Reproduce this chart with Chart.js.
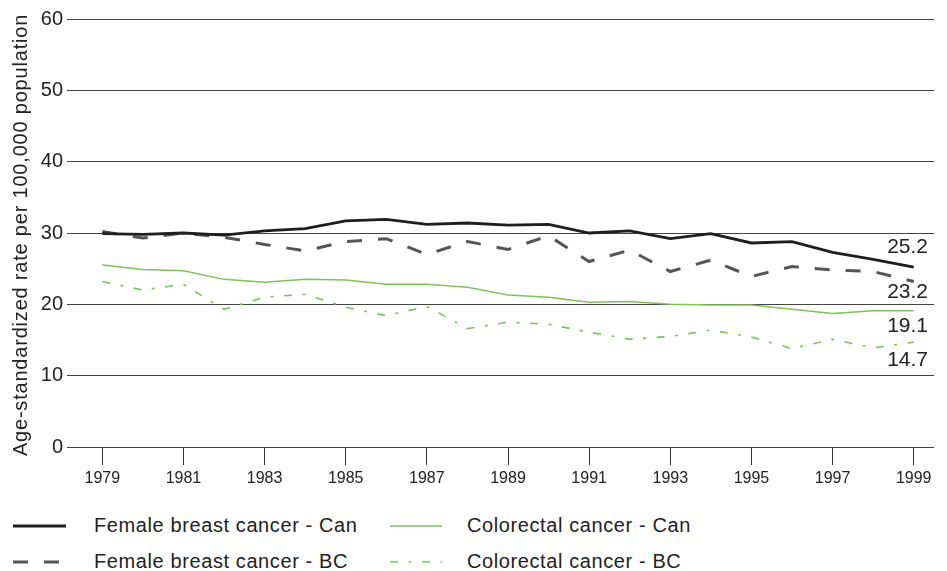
<!DOCTYPE html>
<html>
<head>
<meta charset="utf-8">
<script src="https://cdn.jsdelivr.net/npm/chart.js@4.4.1/dist/chart.umd.min.js"></script>
<style>
  body { margin: 0; background: #fff; font-family: "Liberation Sans", Arial, sans-serif; }
  #wrap { position: relative; width: 947px; height: 571px; }
  #box { position: absolute; left: 0; top: 0; width: 947px; height: 500px; }
  .leg { position: absolute; font-size: 20px; letter-spacing: 0.6px; color: #222; line-height: 22px; white-space: nowrap; }
</style>
</head>
<body>
<div id="wrap">
  <div id="box"><canvas id="chart"></canvas></div>
  <div id="legend"></div>
</div>
<script>
// Data
const years = ["1979", "1980", "1981", "1982", "1983", "1984", "1985", "1986", "1987", "1988", "1989",
  "1990", "1991", "1992", "1993", "1994", "1995", "1996", "1997", "1998", "1999"];
const shownYears = ["1979", "1981", "1983", "1985", "1987", "1989", "1991", "1993", "1995", "1997", "1999"];
const breastCan = [29.9, 29.8, 30.0, 29.7, 30.3, 30.6, 31.7, 31.9, 31.2, 31.4, 31.1, 31.2, 30.0, 30.3, 29.2, 29.9, 28.6, 28.8, 27.3, 26.3, 25.2];
const breastBC = [30.2, 29.3, 30.0, 29.4, 28.4, 27.5, 28.8, 29.2, 27.0, 28.8, 27.7, 29.6, 26.0, 27.6, 24.6, 26.2, 23.9, 25.3, 24.8, 24.6, 23.2];
const colorectalCan = [25.5, 24.9, 24.7, 23.5, 23.1, 23.5, 23.4, 22.8, 22.8, 22.4, 21.3, 21.0, 20.3, 20.4, 20.0, 19.9, 19.9, 19.3, 18.7, 19.1, 19.1];
const colorectalBC = [23.2, 22.0, 22.8, 19.3, 21.0, 21.4, 19.6, 18.4, 19.7, 16.6, 17.5, 17.2, 16.1, 15.1, 15.5, 16.4, 15.4, 13.8, 15.1, 13.9, 14.7];
const seriesNames = ["Female breast cancer - Can", "Female breast cancer - BC", "Colorectal cancer - Can", "Colorectal cancer - BC"];
const yTitle = "Age-standardized rate per 100,000 population";

const GREEN = "#7cc35a";
const styles = [
  { color: "#1e1e1e", width: 2.8, dash: [] },
  { color: "#555555", width: 3, dash: [15, 16] },
  { color: GREEN, width: 1.5, dash: [] },
  { color: GREEN, width: 1.6, dash: [8, 10.5, 3, 10.5] },
];
// vertical nudge for the end-of-line value labels
const endLabels_dy = [-20, 11, 15, 18];

// Draw the value at the end of each line, plus the rotated y title
const extras = {
  id: "extras",
  afterDatasetsDraw(chart) {
    const ctx = chart.ctx;
    ctx.save();
    ctx.font = '21px "Liberation Sans", Arial, sans-serif';
    ctx.fillStyle = "#222";
    ctx.textAlign = "right";
    ctx.textBaseline = "middle";
    chart.data.datasets.forEach((ds, i) => {
      const pts = chart.getDatasetMeta(i).data;
      const p = pts[pts.length - 1];
      ctx.fillText(ds.data[ds.data.length - 1].toFixed(1), 928, p.y + endLabels_dy[i]);
    });
    ctx.restore();

    ctx.save();
    ctx.font = '20px "Liberation Sans", Arial, sans-serif';
    ctx.letterSpacing = "0.8px";
    ctx.fillStyle = "#222";
    ctx.textAlign = "center";
    ctx.textBaseline = "middle";
    ctx.translate(21, 235);
    ctx.rotate(-Math.PI / 2);
    ctx.fillText(yTitle, 0, 0);
    ctx.restore();
  },
};

const series = [breastCan, breastBC, colorectalCan, colorectalBC];
new Chart(document.getElementById("chart"), {
  type: "line",
  data: {
    labels: years,
    datasets: series.map((d, i) => ({
      label: seriesNames[i],
      data: d,
      borderColor: styles[i].color,
      borderWidth: styles[i].width,
      borderDash: styles[i].dash,
      pointRadius: 0,
      tension: 0,
      fill: false,
    })),
  },
  options: {
    responsive: true,
    maintainAspectRatio: false,
    animation: false,
    layout: { padding: { top: 19, right: 13, left: 0, bottom: 0 } },
    plugins: { legend: { display: false }, tooltip: { enabled: false } },
    scales: {
      x: {
        offset: true,
        border: { display: false },
        grid: {
          drawOnChartArea: false,
          tickLength: 18,
          color: (c) => (c.index === undefined || c.index % 2 === 0 ? "#333" : "rgba(0,0,0,0)"),
        },
        ticks: {
          autoSkip: false,
          maxRotation: 0,
          padding: 4,
          color: "#222",
          font: { family: '"Liberation Sans", Arial', size: 16 },
          callback: (v, i) => (shownYears.includes(years[i]) ? years[i] : ""),
        },
        afterFit: (s) => { s.height = 53; },
      },
      y: {
        min: 0,
        max: 60,
        border: { display: false },
        grid: { color: "#444", tickLength: 15 },
        ticks: {
          stepSize: 10,
          padding: 4,
          color: "#222",
          font: { family: '"Liberation Sans", Arial', size: 20 },
        },
        afterFit: (s) => { s.width = 82; },
      },
    },
  },
  plugins: [extras],
});

// Legend below the chart
const legendPos = [
  { x: 8, y: 526, tx: 94 },
  { x: 8, y: 562, tx: 94 },
  { x: 385, y: 526, tx: 467 },
  { x: 385, y: 562, tx: 467 },
];
const legend = document.getElementById("legend");
const ns = "http://www.w3.org/2000/svg";
seriesNames.forEach((name, i) => {
  const p = legendPos[i];
  const s = styles[i];
  const svg = document.createElementNS(ns, "svg");
  svg.setAttribute("width", 60);
  svg.setAttribute("height", 6);
  svg.style.position = "absolute";
  svg.style.left = p.x + "px";
  svg.style.top = p.y - 3 + "px";
  const line = document.createElementNS(ns, "line");
  line.setAttribute("x1", 5);
  line.setAttribute("x2", i < 2 ? 58 : 57);
  line.setAttribute("y1", 3);
  line.setAttribute("y2", 3);
  line.setAttribute("stroke", s.color);
  line.setAttribute("stroke-width", s.width);
  if (s.dash.length) line.setAttribute("stroke-dasharray", s.dash.join(" "));
  svg.appendChild(line);
  legend.appendChild(svg);
  const t = document.createElement("div");
  t.className = "leg";
  t.style.left = p.tx + "px";
  t.style.top = p.y - 12 + "px";
  t.textContent = name;
  legend.appendChild(t);
});
</script>
</body>
</html>
